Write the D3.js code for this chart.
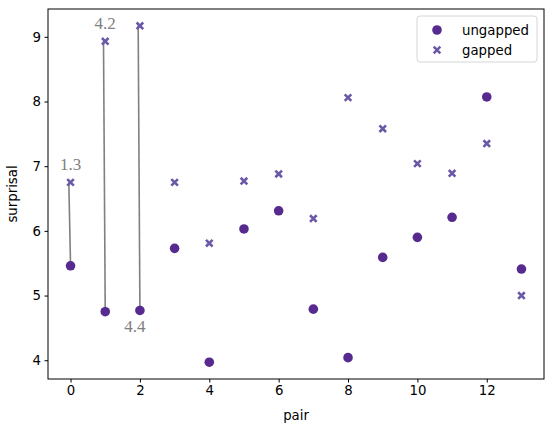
<!DOCTYPE html>
<html>
<head>
<meta charset="utf-8">
<script src="https://cdn.jsdelivr.net/npm/d3@7"></script>
<style>
  body { margin: 0; background: #fff; }
</style>
</head>
<body>
<svg id="chart"></svg>
<script>
const width = 554, height = 432;
const pairs = d3.range(0, 14);
const ungapped = [5.46, 4.75, 4.77, 5.73, 3.97, 6.03, 6.31, 4.79, 4.04, 5.59, 5.90, 6.21, 8.07, 5.41];
const gapped = [6.75, 8.93, 9.17, 6.75, 5.81, 6.77, 6.88, 6.19, 8.06, 7.58, 7.04, 6.89, 7.35, 5.00];
// pairs with a drawn difference, and where the label sits
const marked = [0, 1, 2];
const labelSide = ["top", "top", "bottom"];
const xTicks = [0, 2, 4, 6, 8, 10, 12];
const yTicks = [4, 5, 6, 7, 8, 9];

const sans = 'DejaVu Sans, sans-serif';
const margin = {top: 9, right: 10, bottom: 53, left: 48};
const svg = d3.select('#chart').attr('width', width).attr('height', height);

const x = d3.scaleLinear().domain([-0.65, 13.65]).range([margin.left, width - margin.right]);
const y = d3.scaleLinear().domain([3.71, 9.43]).range([height - margin.bottom, margin.top]);

const cUng = '#562a8f', cGap = '#6b59a7';

svg.append('g')
  .attr('transform', `translate(0,${height - margin.bottom})`)
  .call(d3.axisBottom(x).tickValues(xTicks).tickFormat(d3.format('d')).tickSize(3.5).tickPadding(3.5))
  .call(g => g.selectAll('text').attr('font-size', 13.3).attr('font-family', sans).attr('fill', '#000'));

svg.append('g')
  .attr('transform', `translate(${margin.left},0)`)
  .call(d3.axisLeft(y).tickValues(yTicks).tickFormat(d3.format('d')).tickSize(3.5).tickPadding(3.5))
  .call(g => g.selectAll('text').attr('font-size', 13.3).attr('font-family', sans).attr('fill', '#000'));

svg.selectAll('.domain').remove();
svg.append('rect')
  .attr('x', margin.left).attr('y', margin.top)
  .attr('width', width - margin.left - margin.right)
  .attr('height', height - margin.top - margin.bottom)
  .attr('fill', 'none').attr('stroke', '#000').attr('stroke-width', 1);

// connecting lines
svg.selectAll('.diff').data(marked).enter().append('line')
  .attr('x1', i => x(i - 0.05)).attr('y1', i => y(gapped[i]))
  .attr('x2', i => x(i)).attr('y2', i => y(ungapped[i]))
  .attr('stroke', 'gray').attr('stroke-width', 1.6);

svg.selectAll('.dlab').data(marked).enter().append('text')
  .attr('x', (i, k) => labelSide[k] == 'top' ? x(i) : x(i) - 5)
  .attr('y', (i, k) => labelSide[k] == 'top' ? y(gapped[i]) - 12 : y(ungapped[i]) + 22)
  .attr('text-anchor', 'middle')
  .attr('font-family', 'Liberation Serif, serif')
  .attr('font-size', 17).attr('fill', 'gray')
  .text(i => (gapped[i] - ungapped[i]).toFixed(1));

svg.selectAll('.ung').data(pairs).enter().append('circle')
  .attr('cx', i => x(i)).attr('cy', i => y(ungapped[i]))
  .attr('r', 4.8).attr('fill', cUng);

const cross = 'M-3.3,-3.3L3.3,3.3M-3.3,3.3L3.3,-3.3';
svg.selectAll('.gap').data(pairs).enter().append('path')
  .attr('d', cross)
  .attr('transform', i => `translate(${x(i)},${y(gapped[i])})`)
  .attr('fill', 'none').attr('stroke', cGap).attr('stroke-width', 2.6);

svg.append('text').attr('x', (margin.left + width - margin.right) / 2).attr('y', 420)
  .attr('text-anchor', 'middle').attr('font-family', sans).attr('font-size', 13.3).text('pair');
svg.append('text').attr('transform', `translate(17,${(margin.top + height - margin.bottom) / 2}) rotate(-90)`)
  .attr('text-anchor', 'middle').attr('font-family', sans).attr('font-size', 13.3).text('surprisal');

// legend
const lg = svg.append('g');
lg.append('rect').attr('x', 417).attr('y', 16).attr('width', 120).attr('height', 46).attr('rx', 3)
  .attr('fill', '#fff').attr('stroke', '#d6d6d6');
lg.append('circle').attr('cx', 437).attr('cy', 30).attr('r', 4.8).attr('fill', cUng);
lg.append('path').attr('d', cross).attr('transform', 'translate(437,50)')
  .attr('fill', 'none').attr('stroke', cGap).attr('stroke-width', 2.6);
lg.append('text').attr('x', 462).attr('y', 34.5).attr('font-family', sans).attr('font-size', 13.3).text('ungapped');
lg.append('text').attr('x', 462).attr('y', 54.5).attr('font-family', sans).attr('font-size', 13.3).text('gapped');
</script>
</body>
</html>
